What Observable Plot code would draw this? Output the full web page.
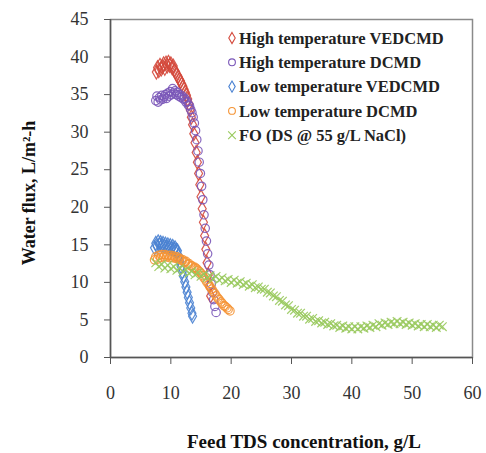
<!DOCTYPE html>
<html>
<head>
<meta charset="utf-8">
<script src="https://cdn.jsdelivr.net/npm/d3@7"></script>
<script src="https://cdn.jsdelivr.net/npm/@observablehq/plot@0.6"></script>
<style>
  html, body { margin: 0; padding: 0; background: #fff; }
  #chart { width: 486px; height: 453px; }
</style>
</head>
<body>
<div id="chart"></div>
<script>
// ---- Data ----
const xTicks = [0, 10, 20, 30, 40, 50, 60];
const yTicks = [0, 5, 10, 15, 20, 25, 30, 35, 40, 45];
const seriesNames = [
  "High temperature VEDCMD",
  "High temperature DCMD",
  "Low temperature VEDCMD",
  "Low temperature DCMD",
  "FO (DS @ 55 g/L NaCl)"
];

// High temperature VEDCMD  [TDS g/L, flux]
const highVEDCMD = [
  [7.6,38.0],[7.8,38.6],[8.0,38.2],[8.2,38.9],[8.4,38.4],[8.6,38.7],[8.8,39.1],[9.0,38.5],
  [9.2,39.2],[9.4,38.8],[9.6,39.3],[9.8,38.9],[10.0,39.1],[10.2,38.6],[10.4,38.8],[10.6,38.2],
  [10.8,38.0],[11.0,37.6],[11.2,37.4],[11.4,37.0],[11.6,36.8],[11.8,36.4],[12.0,36.1],[12.2,35.7],
  [12.4,35.3],[12.6,34.9],[12.8,34.4],[13.0,33.8],[13.2,33.0],[13.4,32.0],[13.6,31.0],[13.8,29.8],
  [14.0,28.6],[14.2,27.3],[14.4,26.0],[14.6,24.5],[14.8,23.0],[15.0,21.4],[15.2,19.8],[15.4,18.0],
  [15.6,16.2],[15.8,14.4],[16.0,12.6],[16.2,11.0],[16.4,9.5],[16.6,8.2]
];
// High temperature DCMD
const highDCMD = [
  [7.5,34.2],[7.7,34.8],[7.9,34.0],[8.1,34.6],[8.3,34.3],[8.5,34.9],[8.7,34.4],[8.9,34.7],
  [9.1,35.0],[9.3,34.5],[9.5,35.2],[9.7,34.8],[9.9,35.4],[10.1,35.0],[10.3,35.8],[10.5,35.2],
  [10.7,35.5],[10.9,35.0],[11.1,35.3],[11.3,34.8],[11.5,35.0],[11.7,34.6],[11.9,34.8],[12.1,34.4],
  [12.3,34.5],[12.5,34.0],[12.7,34.1],[12.9,33.6],[13.1,33.5],[13.3,33.0],[13.5,32.6],[13.7,32.0],
  [13.9,31.2],[14.1,30.2],[14.3,29.0],[14.5,27.5],[14.7,26.0],[14.9,24.5],[15.1,22.8],[15.3,21.0],
  [15.5,19.0],[15.7,17.2],[15.9,15.5],[16.1,13.8],[16.3,12.3],[16.5,11.0],[16.7,9.8],[16.9,8.7],
  [17.1,7.7],[17.3,6.8],[17.5,6.0]
];
// Low temperature VEDCMD
const lowVEDCMD = [
  [7.3,14.6],[7.5,15.2],[7.7,14.8],[7.9,15.4],[8.1,15.0],[8.3,15.3],[8.5,14.9],[8.7,15.2],
  [8.9,14.8],[9.1,15.1],[9.3,14.7],[9.5,15.0],[9.7,14.6],[9.9,14.9],[10.1,14.5],[10.3,14.8],
  [10.5,14.4],[10.7,14.6],[10.9,14.3],[11.1,14.2],[11.3,13.5],[11.5,12.8],[11.7,12.1],[11.9,11.4],
  [12.1,10.8],[12.3,10.1],[12.5,9.4],[12.7,8.7],[12.9,8.0],[13.1,7.3],[13.3,6.6],[13.5,5.9],[13.6,5.5]
];
// Low temperature DCMD
const lowDCMD = [
  [7.3,13.0],[7.5,13.4],[7.8,13.1],[8.0,13.6],[8.3,13.3],[8.5,13.7],[8.8,13.4],[9.0,13.7],
  [9.3,13.4],[9.5,13.6],[9.8,13.3],[10.0,13.6],[10.3,13.3],[10.5,13.5],[10.8,13.2],[11.0,13.4],
  [11.3,13.1],[11.5,13.2],[11.8,12.9],[12.0,13.0],[12.3,12.7],[12.5,12.8],[12.8,12.4],[13.0,12.5],
  [13.3,12.2],[13.5,12.2],[13.8,11.9],[14.0,12.0],[14.3,11.8],[14.5,11.6],[14.8,11.4],[15.0,11.2],
  [15.3,10.9],[15.5,10.6],[15.8,10.3],[16.0,10.0],[16.3,9.7],[16.5,9.4],[16.8,9.1],[17.0,8.8],
  [17.3,8.5],[17.5,8.2],[17.8,7.9],[18.0,7.7],[18.3,7.4],[18.5,7.2],[18.8,6.9],[19.0,6.8],
  [19.3,6.6],[19.5,6.4],[19.8,6.2]
];
// FO (DS @ 55 g/L NaCl)
const foData = [
  [7.5,12.6],[8.0,12.1],[8.5,12.4],[9.0,11.9],[9.5,12.3],[10.0,11.8],[10.5,12.1],[11.0,11.6],
  [11.5,11.9],[12.0,11.4],[12.5,11.7],[13.0,11.2],[13.5,11.5],[14.0,11.0],[14.5,11.3],[15.0,10.8],
  [15.5,11.1],[16.0,10.6],[16.5,10.9],[17.0,10.5],[17.5,10.8],[18.0,10.3],[18.5,10.6],[19.0,10.2],
  [19.5,10.4],[20.0,10.0],[20.5,10.3],[21.0,9.9],[21.5,10.1],[22.0,9.7],[22.5,9.9],[23.0,9.5],
  [23.5,9.7],[24.0,9.3],[24.5,9.4],[25.0,9.1],[25.5,9.1],[26.0,8.7],[26.5,8.6],[27.0,8.2],
  [27.5,8.1],[28.0,7.6],[28.5,7.5],[29.0,7.0],[29.5,6.9],[30.0,6.4],[30.5,6.3],[31.0,5.9],
  [31.5,5.9],[32.0,5.5],[32.5,5.5],[33.0,5.1],[33.5,5.2],[34.0,4.8],[34.5,4.9],[35.0,4.6],
  [35.5,4.7],[36.0,4.4],[36.5,4.5],[37.0,4.2],[37.5,4.3],[38.0,4.0],[38.5,4.2],[39.0,3.9],
  [39.5,4.1],[40.0,3.8],[40.5,4.1],[41.0,3.8],[41.5,4.1],[42.0,3.9],[42.5,4.2],[43.0,4.0],
  [43.5,4.3],[44.0,4.1],[44.5,4.5],[45.0,4.3],[45.5,4.6],[46.0,4.4],[46.5,4.7],[47.0,4.5],
  [47.5,4.8],[48.0,4.5],[48.5,4.7],[49.0,4.4],[49.5,4.6],[50.0,4.3],[50.5,4.5],[51.0,4.2],
  [51.5,4.4],[52.0,4.1],[52.5,4.4],[53.0,4.1],[53.5,4.3],[54.0,4.0],[54.5,4.3],[55.0,4.1]
];

const colors = ["#d4493c", "#7a56b8", "#4a82d2", "#f59434", "#98c95c"];
const symbols = ["diamond", "circle", "diamond", "circle", "times"];
const seriesData = [highVEDCMD, highDCMD, lowVEDCMD, lowDCMD, foData];

const fontSerif = "'Liberation Serif', 'Times New Roman', serif";

const dotMarks = seriesData.map((data, i) =>
  Plot.dot(data, {
    x: d => d[0], y: d => d[1],
    symbol: symbols[i],
    r: symbols[i] === "times" ? 4 : 4.2,
    fill: "none",
    stroke: colors[i],
    strokeWidth: 1.2,
    strokeOpacity: 0.9
  })
);

const plot = Plot.plot({
  width: 486,
  height: 453,
  marginLeft: 110,
  marginRight: 14,
  marginTop: 19,
  marginBottom: 96,
  x: { domain: [0, 60] },
  y: { domain: [0, 45] },
  style: { fontFamily: fontSerif, fontSize: "18px", color: "#333", background: "#fff" },
  marks: [
    Plot.frame({ stroke: "#8a8a8a", strokeWidth: 1.5 }),
    ...dotMarks,
    Plot.ruleX([0], { stroke: "#555", strokeWidth: 1.5 }),
    Plot.ruleY([0], { stroke: "#555", strokeWidth: 1.5 }),
    Plot.axisX({ ticks: xTicks, tickSize: 7, tickPadding: 22, label: null, stroke: "#555", fontSize: 18 }),
    Plot.axisY({ ticks: yTicks, tickSize: 6, tickPadding: 16, label: null, stroke: "#555", fontSize: 18 })
  ]
});

document.getElementById("chart").appendChild(plot);

// ---- Titles and legend ----
const svg = d3.select(plot);
svg.append("text")
  .attr("x", 304).attr("y", 448)
  .attr("text-anchor", "middle")
  .attr("font-family", fontSerif)
  .attr("font-weight", "bold")
  .attr("font-size", 19)
  .attr("fill", "#111")
  .text("Feed TDS concentration, g/L");

svg.append("text")
  .attr("transform", "translate(35,193) rotate(-90)")
  .attr("text-anchor", "middle")
  .attr("font-family", fontSerif)
  .attr("font-weight", "bold")
  .attr("font-size", 18)
  .attr("fill", "#111")
  .text("Water flux, L/m²-h");

const legend = svg.append("g");
const symMap = { diamond: d3.symbolDiamond, circle: d3.symbolCircle, times: d3.symbolTimes };
seriesNames.forEach((name, i) => {
  const cy = 38 + i * 24.3;
  legend.append("path")
    .attr("transform", `translate(232,${cy})`)
    .attr("d", d3.symbol(symMap[symbols[i]], symbols[i] === "times" ? 40 : 36)())
    .attr("fill", "none")
    .attr("stroke", colors[i])
    .attr("stroke-width", 1.1);
  legend.append("text")
    .attr("x", 239).attr("y", cy)
    .attr("dy", "0.35em")
    .attr("text-anchor", "start")
    .attr("font-family", fontSerif)
    .attr("font-weight", "bold")
    .attr("font-size", 16.5)
    .attr("fill", "#222")
    .text(name);
});
</script>
</body>
</html>
